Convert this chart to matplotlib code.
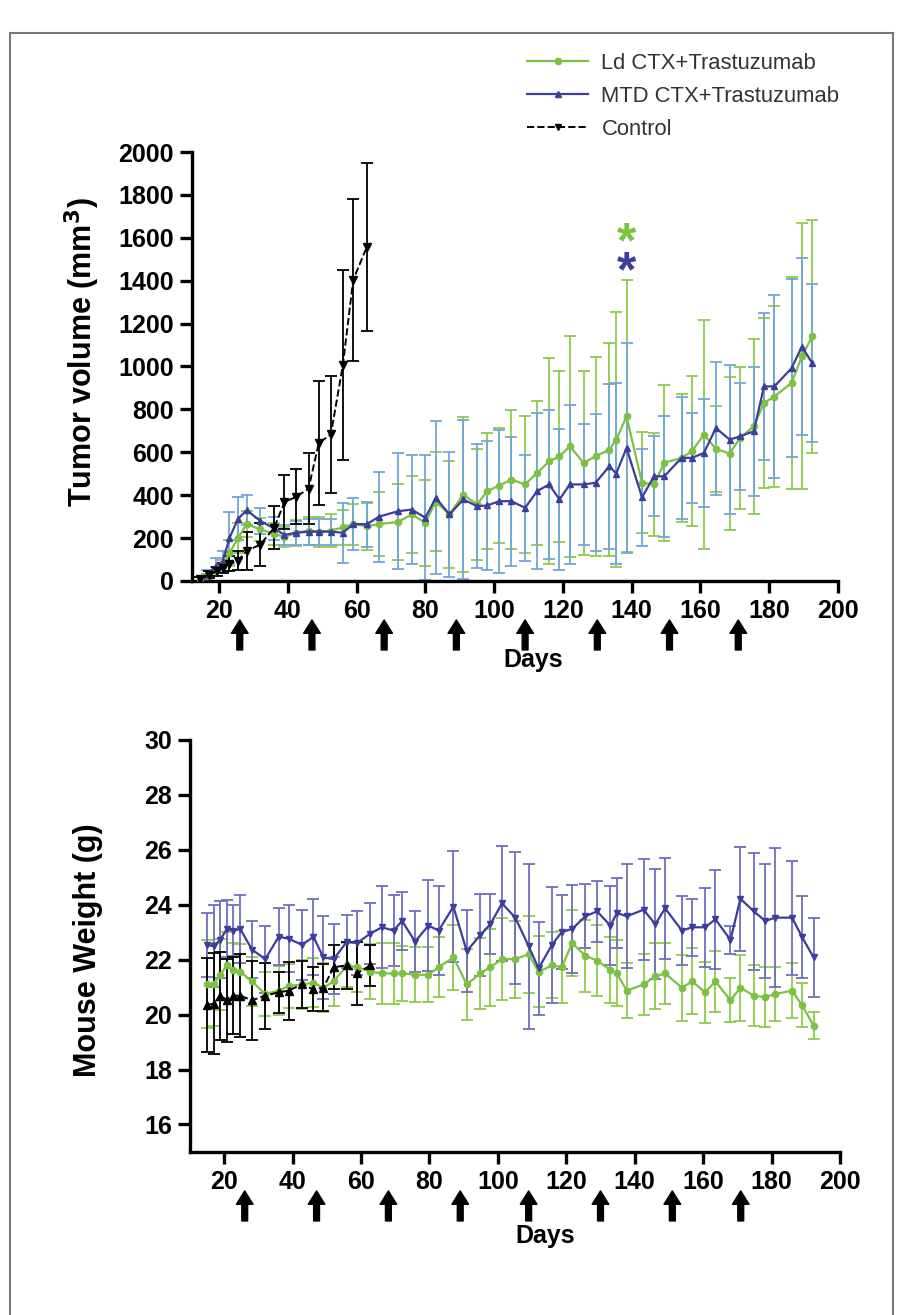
import matplotlib.pyplot as plt
from matplotlib.patches import Rectangle
from matplotlib.lines import Line2D

plt.rcParams['font.family'] = ['Liberation Sans', 'DejaVu Sans']
plt.rcParams['font.weight'] = 'bold'
plt.rcParams['axes.labelweight'] = 'bold'

# ---- tumor volume (top panel) ----
vol_days = [14.5, 16.5, 19, 21, 23, 25.5, 28, 32, 36, 39, 42.5, 46, 49, 52.5, 56, 59, 63, 66.5,
            72, 76, 80, 83, 87, 91, 95, 98, 101.5, 105, 109, 112.5, 116, 119, 122, 126, 129.5,
            133.5, 135.5, 138.5, 143, 146.5, 149.5, 154.5, 157.5, 161, 164.5, 168.5, 171.5,
            175.5, 178.5, 181.5, 186.5, 189.5, 192.5]
ld_vol = [10, 22, 45, 70, 130, 200, 265, 240, 220, 205, 225, 235, 230, 235, 250, 265, 255, 265,
          275, 310, 272, 370, 310, 403, 357, 419, 445, 473, 450, 504, 558, 581, 628, 551, 581,
          612, 659, 767, 458, 450, 551, 574, 605, 682, 616, 594, 667,
          721, 830, 860, 923, 1047, 1140]
ld_vol_err = [8, 12, 20, 30, 60, 70, 60, 55, 50, 45, 60, 65, 70, 75, 80, 95, 110, 150,
              175, 178, 200, 229, 250, 360, 260, 270, 270, 322, 320, 337, 480, 400, 515, 430, 465,
              496, 596, 634, 236, 240, 364, 300, 349, 535, 200, 357, 330,
              407, 395, 420, 496, 620, 543]
mtd_vol = [8, 30, 70, 90, 200, 290, 330, 280, 245, 215, 225, 230, 230, 230, 225, 265, 265, 300,
           325, 333, 295, 388, 310, 380, 349, 352, 372, 372, 341, 419, 450, 380, 450, 450, 458,
           535, 501, 620, 390, 488, 488, 574, 574, 597, 713, 659, 674,
           698, 907, 907, 992, 1093, 1016]
mtd_vol_err = [10, 20, 35, 50, 120, 100, 70, 60, 55, 45, 55, 60, 60, 60, 140, 120, 105, 210,
               270, 255, 290, 357, 290, 372, 288, 300, 334, 300, 248, 365, 348, 330, 372, 283, 320,
               384, 420, 488, 225, 186, 283, 283, 209, 250, 310, 349, 250,
               300, 341, 427, 415, 411, 368]
ctrl_vol_days = [14.5, 17, 19.5, 21, 23, 25.5, 28, 32, 36, 39, 42.5, 46, 49, 52.5, 56, 59, 63]
ctrl_vol = [10, 30, 45, 60, 80, 95, 140, 170, 248, 368, 393, 431, 644, 683, 1008, 1404, 1559]
ctrl_vol_err = [8, 15, 20, 25, 35, 45, 87, 100, 100, 125, 128, 166, 290, 272, 442, 378, 392]

# ---- mouse weight (bottom panel) ----
wt_days = [14.9, 16.9, 18.8, 20.8, 22.7, 24.7, 28.1, 32, 35.9, 38.8, 42.7, 46.1, 49, 52, 55.9,
           58.8, 62.7, 66.1, 69.5, 72, 75.8, 79.7, 82.7, 87, 90.9, 94.9, 97.8, 101.2, 105.1, 109,
           111.9, 115.8, 118.7, 121.7, 125.6, 129, 132.9, 134.8, 137.7, 142.6, 146, 148.9, 153.8,
           156.8, 160.6, 163.6, 168, 170.9, 174.8, 178.2, 181.1, 186, 188.9, 192.3]
mtd_wt = [22.54, 22.49, 22.72, 23.12, 23.06, 23.12, 22.37, 22.02, 22.83, 22.77, 22.54, 22.83,
          22.08, 22.02, 22.66, 22.6, 22.95, 23.18, 23.06, 23.41, 22.66, 23.24, 23.06, 23.93, 22.31,
          22.9, 23.29, 24.05, 23.53, 22.49, 21.68, 22.54, 23.01, 23.12, 23.58, 23.76, 23.24, 23.7,
          23.58, 23.82, 23.29, 23.87, 23.06, 23.18, 23.18, 23.47, 22.72, 24.22, 23.76, 23.41,
          23.53, 23.53, 22.83, 22.08]
mtd_wt_err = [1.16, 1.5, 1.4, 1.04, 0.93, 1.24, 1.04, 1.22, 1.04, 1.22, 1.28, 1.39, 1.5, 1.27,
              0.98, 1.16, 1.1, 1.5, 1.3, 1.04, 1.1, 1.67, 1.62, 2.02, 1.5, 1.5, 1.1, 2.1, 2.4, 3.0,
              1.7, 2.1, 1.35, 1.6, 1.16, 1.1, 1.44, 1.27, 1.9, 1.84, 2.0, 1.85, 1.27, 1.04, 1.44,
              1.8, 0.5, 1.9, 2.14, 2.08, 2.54, 2.08, 1.5, 1.45]
ld_wt = [21.1, 21.1, 21.45, 21.79, 21.62, 21.56, 21.21, 20.75, 20.87, 21.04, 21.1, 21.16, 20.98,
         21.21, 21.79, 21.73, 21.56, 21.5, 21.5, 21.5, 21.45, 21.45, 21.73, 22.08, 21.1, 21.5,
         21.73, 22.02, 22.02, 22.2, 21.56, 21.79, 21.73, 22.6, 22.14, 21.97, 21.62, 21.5, 20.87,
         21.1, 21.39, 21.5, 20.98, 21.21, 20.81, 21.21, 20.52, 20.98, 20.69, 20.64, 20.75, 20.87,
         20.35, 19.6]
ld_wt_err = [1.6, 1.5, 1.3, 1.2, 1.0, 1.0, 0.9, 0.8, 0.9, 0.8, 0.9, 0.9, 0.9, 0.9, 0.8, 0.9, 1.0,
             1.1, 1.1, 1.0, 1.0, 1.0, 1.1, 1.2, 1.3, 1.3, 1.4, 1.5, 1.4, 1.4, 1.3, 1.2, 1.3, 1.2,
             1.3, 1.3, 1.2, 1.2, 1.0, 1.1, 1.2, 1.1, 1.2, 1.2, 1.1, 1.1, 0.8, 1.2, 1.1, 1.1, 1.0,
             1.0, 0.8, 0.5]
ctrl_wt_days = [14.9, 16.9, 18.8, 20.8, 22.7, 24.7, 28.1, 32, 35.9, 38.8, 42.7, 46.1, 49, 52,
                55.9, 58.8, 62.7]
ctrl_wt = [20.35, 20.4, 20.69, 20.52, 20.69, 20.69, 20.52, 20.69, 20.81, 20.87, 21.1, 20.92,
           20.98, 21.73, 21.79, 21.5, 21.79]
ctrl_wt_err = [1.7, 1.85, 1.6, 1.5, 1.4, 1.5, 1.45, 1.2, 0.75, 1.05, 0.87, 0.8, 0.86, 0.8, 0.87,
               1.15, 0.75]

# treatment days (arrows)
dose_days = [26, 47, 68, 89, 109, 130, 151, 171]

green = '#7cc142'
green_err = '#8fcb4c'
blue = '#3d3d9e'
blue_err_top = '#6fa6dc'
blue_err_bot = '#6e6ec0'

fig = plt.figure(figsize=(9.06, 13.15), dpi=100)
fig.patches.append(Rectangle((0.011, -0.01), 0.975, 0.9847, transform=fig.transFigure,
                             fill=False, ec='#777777', lw=1.5))

ax1 = fig.add_axes([0.2119, 0.5582, 0.713, 0.3262])
ax2 = fig.add_axes([0.2097, 0.124, 0.7174, 0.3133])

eb = dict(fmt='none', elinewidth=1.3, capsize=4, capthick=1.3)

# top panel
ax1.errorbar(vol_days, ld_vol, yerr=ld_vol_err, ecolor=green_err, zorder=2, **eb)
ax1.errorbar(vol_days, mtd_vol, yerr=mtd_vol_err, ecolor=blue_err_top, zorder=2, **eb)
ax1.errorbar(ctrl_vol_days, ctrl_vol, yerr=ctrl_vol_err, ecolor='black', zorder=3, **eb)
ax1.plot(vol_days, ld_vol, '-o', color=green, lw=1.6, ms=4.5, zorder=4)
ax1.plot(vol_days, mtd_vol, '-^', color=blue, lw=1.6, ms=5, zorder=5)
ax1.plot(ctrl_vol_days, ctrl_vol, '--v', color='black', lw=1.4, ms=6, zorder=6)

ax1.annotate('*', xy=(138.5, 1620), xytext=(0, -17.5), textcoords='offset points',
             ha='center', va='baseline', fontsize=36, color=green)
ax1.annotate('*', xy=(138.5, 1487), xytext=(0, -17.5), textcoords='offset points',
             ha='center', va='baseline', fontsize=36, color=blue)

ax1.set_xlim(12.1, 200)
ax1.set_ylim(0, 2000)
ax1.set_yticks(range(0, 2001, 200))
ax1.set_xticks(range(20, 201, 20))
ax1.set_ylabel('Tumor volume (mm$^\\mathbf{3}$)', fontsize=22)
ax1.yaxis.set_label_coords(-0.139, 0.534)
ax1.set_xlabel('Days', fontsize=18)
ax1.xaxis.set_label_coords(0.528, -67 / 429)

# bottom panel
ax2.errorbar(wt_days, ld_wt, yerr=ld_wt_err, ecolor=green_err, zorder=2, **eb)
ax2.errorbar(wt_days, mtd_wt, yerr=mtd_wt_err, ecolor=blue_err_bot, zorder=2, **eb)
ax2.errorbar(ctrl_wt_days, ctrl_wt, yerr=ctrl_wt_err, ecolor='black', zorder=3, **eb)
ax2.plot(wt_days, ld_wt, '-o', color=green, lw=1.6, ms=4.5, zorder=4)
ax2.plot(wt_days, mtd_wt, '-v', color=blue, lw=1.6, ms=5, zorder=5)
ax2.plot(ctrl_wt_days, ctrl_wt, '--^', color='black', lw=1.4, ms=6, zorder=6)

ax2.set_xlim(10, 200)
ax2.set_ylim(15, 30)
ax2.set_yticks(range(16, 31, 2))
ax2.set_xticks(range(20, 201, 20))
ax2.set_ylabel('Mouse Weight (g)', fontsize=22)
ax2.yaxis.set_label_coords(-0.134, 0.49)
ax2.set_xlabel('Days', fontsize=18)
ax2.xaxis.set_label_coords(0.546, -72 / 412)

for ax in (ax1, ax2):
    for s in ('top', 'right'):
        ax.spines[s].set_visible(False)
    for s in ('left', 'bottom'):
        ax.spines[s].set_linewidth(2.4)
    ax.tick_params(width=2.4, length=8.5, labelsize=18, pad=4.5)
    h = ax.get_position().height * 1315
    for d in dose_days:
        ax.annotate('', xy=(d, -39 / h), xytext=(d, -69 / h),
                    xycoords=ax.get_xaxis_transform(),
                    arrowprops=dict(arrowstyle='simple,head_width=1.0,head_length=0.8,tail_width=0.35',
                                    color='black', mutation_scale=12, shrinkA=0, shrinkB=0),
                    annotation_clip=False)

handles = [
    Line2D([], [], color=green, marker='o', ms=4.5, lw=1.6),
    Line2D([], [], color=blue, marker='^', ms=4.5, lw=1.6),
    Line2D([], [], color='black', marker='v', ms=4.5, lw=1.4, ls='--'),
]
labels = ['Ld CTX+Trastuzumab', 'MTD CTX+Trastuzumab', 'Control']
leg = fig.legend(handles, labels, loc='upper left', bbox_to_anchor=(0.5815, 0.960),
                 frameon=False, handlelength=2.8, handletextpad=0.6, labelspacing=0.55,
                 borderpad=0, borderaxespad=0, prop={'size': 15.8, 'weight': 'normal'})
for t in leg.get_texts():
    t.set_color('#333333')

fig.savefig('out.png', dpi=100)
